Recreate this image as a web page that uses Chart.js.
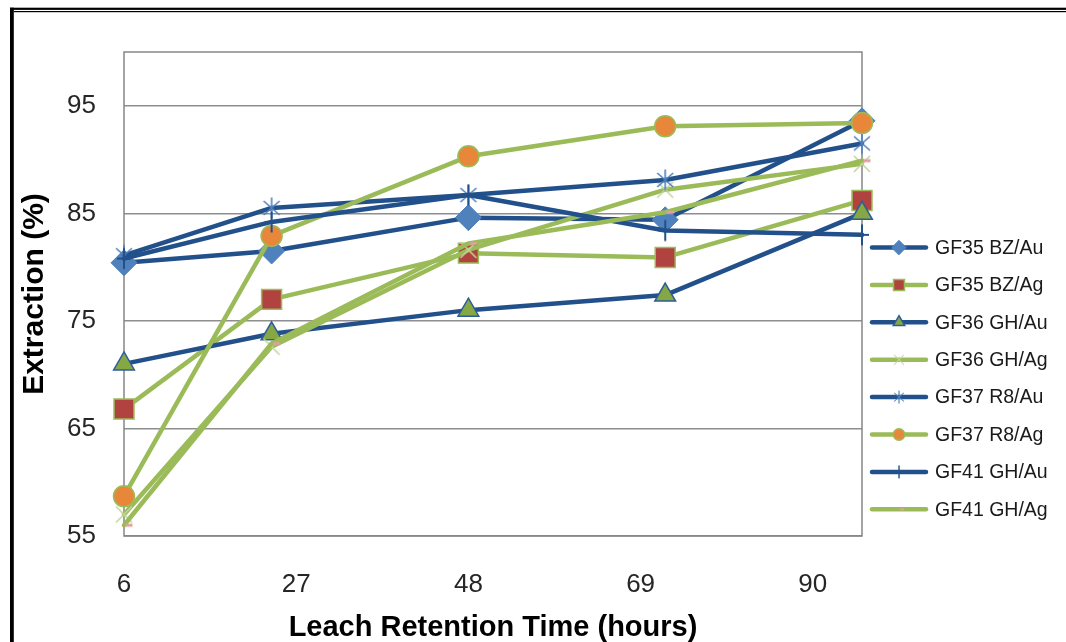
<!DOCTYPE html>
<html>
<head>
<meta charset="utf-8">
<script src="https://cdn.jsdelivr.net/npm/chart.js@4.4.1/dist/chart.umd.min.js"></script>
<style>
  html, body { margin: 0; padding: 0; background: #ffffff; }
  #wrap { position: relative; width: 1066px; height: 642px; }
  canvas { display: block; }
</style>
</head>
<body>
<div id="wrap"><canvas id="c" width="1066" height="642"></canvas></div>
<script>
// Leach retention times (hours) at which each sample was assayed
const retentionHours = [6, 24, 48, 72, 96];
const hourTicks = [6, 27, 48, 69, 90];
const extractionTicks = [55, 65, 75, 85, 95];

const seriesNames = [
  'GF35 BZ/Au', 'GF35 BZ/Ag', 'GF36 GH/Au', 'GF36 GH/Ag',
  'GF37 R8/Au', 'GF37 R8/Ag', 'GF41 GH/Au', 'GF41 GH/Ag'
];

// Extraction (%) per sample
const gf35BzAu = [80.4, 81.5, 84.6, 84.4, 93.6];
const gf35BzAg = [66.8, 77.0, 81.3, 80.9, 86.2];
const gf36GhAu = [71.0, 73.8, 76.0, 77.4, 85.0];
const gf36GhAg = [57.0, 72.6, 81.6, 87.2, 89.6];
const gf37R8Au = [81.1, 85.5, 86.7, 88.1, 91.5];
const gf37R8Ag = [58.7, 82.9, 90.3, 93.1, 93.4];
const gf41GhAu = [80.8, 84.2, 86.7, 83.4, 83.0];
const gf41GhAg = [56.0, 72.9, 82.2, 85.1, 89.9];

const BLUE = '#22508a';
const LIGHT_BLUE = '#4f81bd';
const GREEN = '#9bbb59';
const FONT = '"Liberation Sans", Arial, sans-serif';

// Small canvas markers for the line-only glyphs (star, plus, x, dash)
function makeMarker(w, h, paint) {
  const cv = document.createElement('canvas');
  cv.width = w; cv.height = h;
  const g = cv.getContext('2d');
  paint(g, w / 2, h / 2);
  return cv;
}
const starMarker = makeMarker(24, 24, (g, cx, cy) => {
  g.strokeStyle = LIGHT_BLUE; g.lineWidth = 1.6;
  g.beginPath();
  g.moveTo(cx - 8, cy - 7); g.lineTo(cx + 8, cy + 7);
  g.moveTo(cx + 8, cy - 7); g.lineTo(cx - 8, cy + 7);
  g.moveTo(cx, cy - 10.5); g.lineTo(cx, cy + 10.5);
  g.stroke();
});
const plusMarker = makeMarker(24, 24, (g, cx, cy) => {
  g.strokeStyle = BLUE; g.lineWidth = 2;
  g.beginPath();
  g.moveTo(cx, cy - 10.5); g.lineTo(cx, cy + 10.5);
  g.moveTo(cx - 7, cy); g.lineTo(cx + 7, cy);
  g.stroke();
});
const xMarker = makeMarker(24, 24, (g, cx, cy) => {
  g.strokeStyle = '#c3d69b'; g.lineWidth = 1.6;
  g.beginPath();
  g.moveTo(cx - 8, cy - 8); g.lineTo(cx + 8, cy + 8);
  g.moveTo(cx + 8, cy - 8); g.lineTo(cx - 8, cy + 8);
  g.stroke();
});
const dashMarker = makeMarker(24, 8, (g, cx, cy) => {
  g.fillStyle = '#e0a0a0';
  g.fillRect(cx + 1.5, cy - 1.5, 7, 3);
});

const toPoints = vals => vals.map((v, i) => ({ x: retentionHours[i], y: v }));

const seriesValues = [gf35BzAu, gf35BzAg, gf36GhAu, gf36GhAg, gf37R8Au, gf37R8Ag, gf41GhAu, gf41GhAg];
const seriesStyles = [
  { line: BLUE,  style: 'rectRot',  r: 13,   fill: LIGHT_BLUE, border: LIGHT_BLUE, bw: 1 },
  { line: GREEN, style: 'rect',     r: 14.1, fill: '#b0433f',  border: GREEN,      bw: 1.5 },
  { line: BLUE,  style: 'triangle', r: 12,   fill: '#86a844',  border: '#2c5d98',  bw: 1.5 },
  { line: GREEN, style: xMarker,    r: 10,   fill: GREEN,      border: GREEN,      bw: 0 },
  { line: BLUE,  style: starMarker, r: 10,   fill: LIGHT_BLUE, border: LIGHT_BLUE, bw: 0 },
  { line: GREEN, style: 'circle',   r: 10.5, fill: '#e8873a',  border: GREEN,      bw: 1.5 },
  { line: BLUE,  style: plusMarker, r: 10,   fill: BLUE,       border: BLUE,       bw: 0 },
  { line: GREEN, style: dashMarker, r: 4,    fill: '#e0a0a0',  border: '#e0a0a0', bw: 0 }
];

const datasets = seriesNames.map((name, i) => {
  const s = seriesStyles[i];
  return {
    label: name,
    data: toPoints(seriesValues[i]),
    borderColor: s.line,
    backgroundColor: s.line,
    borderWidth: 4.5,
    borderJoinStyle: 'round',
    borderCapStyle: 'round',
    tension: 0,
    pointStyle: s.style,
    pointRadius: s.r,
    pointHoverRadius: s.r,
    pointBackgroundColor: s.fill,
    pointBorderColor: s.border,
    pointBorderWidth: s.bw,
    clip: false,
    order: seriesNames.length - i
  };
});

// Page frame and plot-area box
const framePlugin = {
  id: 'frame',
  beforeDraw(chart) {
    const ctx = chart.ctx;
    ctx.save();
    ctx.fillStyle = '#ffffff';
    ctx.fillRect(0, 0, chart.width, chart.height);
    ctx.fillStyle = '#000000';
    ctx.fillRect(10, 7.7, 1056, 2.2);
    ctx.fillRect(13.7, 11, 1053, 1.2);
    ctx.fillRect(10, 7.7, 3.8, 640);
    ctx.restore();
  },
  beforeDatasetsDraw(chart) {
    const { left, top, right, bottom } = chart.chartArea;
    const ctx = chart.ctx;
    ctx.save();
    ctx.strokeStyle = '#868686';
    ctx.lineWidth = 1.5;
    ctx.strokeRect(left, top, right - left, bottom - top);
    ctx.restore();
  }
};

// Series key on the right-hand side
const sideLegend = {
  id: 'sideLegend',
  afterDraw(chart) {
    const ctx = chart.ctx;
    chart.data.datasets.forEach((ds, i) => {
      const y = 247.5 + i * 37.4;
      ctx.save();
      ctx.strokeStyle = ds.borderColor;
      ctx.lineWidth = 4.5;
      ctx.lineCap = 'round';
      ctx.beginPath();
      ctx.moveTo(872, y);
      ctx.lineTo(926, y);
      ctx.stroke();
      const cx = 899;
      const ps = ds.pointStyle;
      if (ps instanceof HTMLCanvasElement) {
        const k = 0.62;
        ctx.drawImage(ps, cx - ps.width * k / 2, y - ps.height * k / 2, ps.width * k, ps.height * k);
      } else {
        ctx.fillStyle = ds.pointBackgroundColor;
        ctx.strokeStyle = ds.pointBorderColor;
        ctx.lineWidth = ds.pointBorderWidth;
        Chart.helpers.drawPoint(ctx, {
          pointStyle: ps, radius: ds.pointRadius * 0.55,
          borderWidth: ds.pointBorderWidth, rotation: 0
        }, cx, y);
      }
      ctx.fillStyle = '#1a1a1a';
      ctx.font = '19.5px ' + FONT;
      ctx.textBaseline = 'middle';
      ctx.textAlign = 'left';
      ctx.fillText(ds.label, 935, y + 1);
      ctx.restore();
    });
  }
};

new Chart(document.getElementById('c'), {
  type: 'line',
  data: { datasets },
  plugins: [framePlugin, sideLegend],
  options: {
    responsive: false,
    devicePixelRatio: 1,
    animation: false,
    events: [],
    layout: { padding: { top: 52, right: 204, left: 0, bottom: 0 } },
    plugins: { legend: { display: false }, tooltip: { enabled: false } },
    scales: {
      x: {
        type: 'linear',
        min: 6,
        max: 96,
        afterBuildTicks: s => { s.ticks = hourTicks.map(v => ({ value: v })); },
        afterFit: s => { s.height = 106; },
        grid: { display: false, drawTicks: false },
        border: { display: false },
        ticks: {
          padding: 33,
          color: '#262626',
          font: { family: FONT, size: 26 },
          maxRotation: 0,
          autoSkip: false
        },
        title: {
          display: true,
          text: 'Leach Retention Time (hours)',
          color: '#000000',
          font: { family: FONT, size: 29, weight: 'bold' },
          padding: { top: 0, bottom: -3 }
        }
      },
      y: {
        type: 'linear',
        min: 55,
        max: 100,
        afterBuildTicks: s => { s.ticks = extractionTicks.map(v => ({ value: v })); },
        afterFit: s => { s.width = 124; },
        grid: { color: '#8e8e8e', lineWidth: 1.5, drawTicks: false },
        border: { display: false },
        ticks: {
          padding: 28,
          color: '#262626',
          font: { family: FONT, size: 26 }
        },
        title: {
          display: true,
          text: 'Extraction (%)',
          color: '#000000',
          font: { family: FONT, size: 30, weight: 'bold' },
          padding: { top: 16.5, bottom: 0 }
        }
      }
    }
  }
});
</script>
</body>
</html>
